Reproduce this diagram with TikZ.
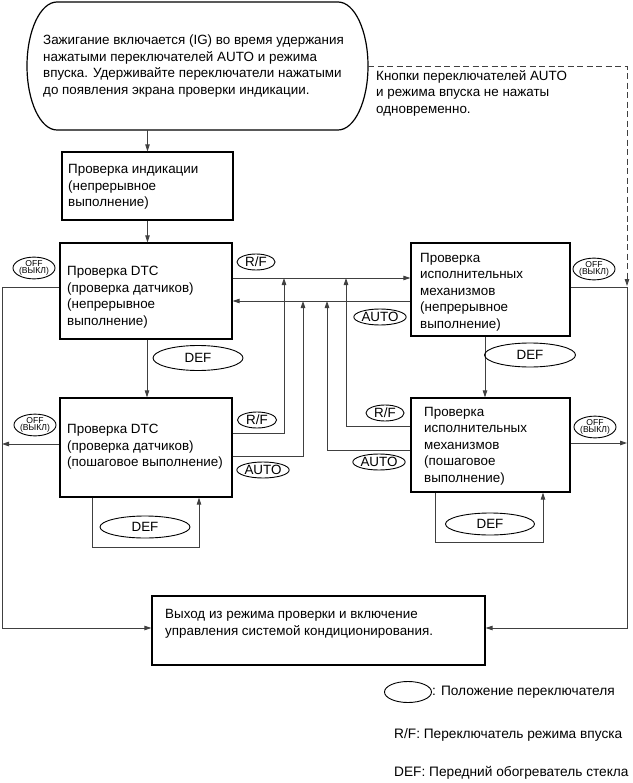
\documentclass[tikz,border=0pt]{standalone}
\usepackage{fontspec}
\setmainfont{Liberation Sans}
\usetikzlibrary{arrows.meta,shapes.geometric}
\begin{document}
\begin{tikzpicture}[x=1pt,y=-1pt,
  box/.style={draw,line width=1.2pt,inner sep=0pt},
  txt/.style={anchor=west,align=left,inner sep=0pt,font=\fontsize{13.4}{16.5}\selectfont},
  legtxt/.style={txt,font=\fontsize{13.7}{16.5}\selectfont},
  conn/.style={draw=black!75,line width=0.8pt},
  arr/.style={conn,-{Triangle[length=7pt,width=4.5pt]}},
  sw/.style={draw,ellipse,line width=0.9pt,inner sep=0pt,font=\fontsize{13.4}{13}\selectfont},
  off/.style={draw,ellipse,line width=0.9pt,inner sep=0pt,minimum width=38pt,minimum height=21pt,align=center,font=\fontsize{8.6}{7.6}\selectfont}]
\useasboundingbox (0,0) rectangle (632,783);
% top
\node[inner sep=0pt,minimum width=341pt,minimum height=128pt] (top) at (197.5,66) {};
\draw[line width=1.2pt] (57,2) -- (338,2)
  .. controls (354.6,2) and (368,30.7) .. (368,66)
  .. controls (368,101.3) and (354.6,130) .. (338,130)
  -- (57,130)
  .. controls (40.4,130) and (27,101.3) .. (27,66)
  .. controls (27,30.7) and (40.4,2) .. cycle;
\node[txt] (toptxt) at (43,66) {Зажигание включается (IG) во время удержания\\нажатыми переключателей AUTO и режима\\впуска. Удерживайте переключатели нажатыми\\до появления экрана проверки индикации.};
\node[txt] (note) at (376,93) {Кнопки переключателей AUTO\\и режима впуска не нажаты\\одновременно.};
% boxes
\node[box,minimum width=171pt,minimum height=68pt] (ind) at (147.5,186) {};
\node[txt] (indt) at (68,187) {Проверка индикации\\(непрерывное\\выполнение)};
\node[box,minimum width=172pt,minimum height=96pt] (dtc) at (146,291) {};
\node[txt] (dtct) at (67,297) {Проверка DTC\\(проверка датчиков)\\(непрерывное\\выполнение)};
\node[box,minimum width=159pt,minimum height=93pt] (act) at (490.5,289.5) {};
\node[txt] (actt) at (420,292) {Проверка\\исполнительных\\механизмов\\(непрерывное\\выполнение)};
\node[box,minimum width=172pt,minimum height=99pt] (dtcs) at (146,447.5) {};
\node[txt] (dtcst) at (67,447) {Проверка DTC\\(проверка датчиков)\\(пошаговое выполнение)};
\node[box,minimum width=159pt,minimum height=94pt] (acts) at (490.5,445) {};
\node[txt] (actst) at (424,446) {Проверка\\исполнительных\\механизмов\\(пошаговое\\выполнение)};
\node[box,minimum width=333pt,minimum height=69pt] (exit) at (318.5,630.5) {};
\node[txt] (exitt) at (165,624) {Выход из режима проверки и включение\\управления системой кондиционирования.};
% corner coordinates
\coordinate (lx1) at (2,287);
\coordinate (lx2) at (2,628);
\coordinate (rx1) at (627,287);
\coordinate (rx2) at (627,628);
\coordinate (dsh) at (627,66);
\coordinate (dshe) at (627,286);
% vertical flow
\draw[arr] (top.south -| ind.north) -- (ind.north);
\draw[arr] (ind.south) -- (ind.south |- dtc.north);
\draw[arr] (dtc.south -| 147,0) -- (dtcs.north -| 147,0);
\draw[arr] (act.south -| 485,0) -- (acts.north -| 485,0);
% main horizontal
\draw[arr] (dtc.east |- 0,278) -- (act.west |- 0,278);
\draw[arr] (act.west |- 0,301) -- (dtc.east |- 0,301);
% risers
\draw[arr] (dtcs.east |- 0,433) -- (284,433) -- (284,278);
\draw[arr] (dtcs.east |- 0,456) -- (303,456) -- (303,301);
\draw[arr] (acts.west |- 0,450) -- (327,450) -- (327,301);
\draw[arr] (acts.west |- 0,426) -- (346,426) -- (346,278);
% DEF loops
\draw[arr] (dtcs.south -| 92,0) -- (92,547) -- (199,547) -- (dtcs.south -| 199,0);
\draw[arr] (acts.south -| 435,0) -- (435,542) -- (543,542) -- (acts.south -| 543,0);
% OFF
\draw[arr] (dtc.west |- lx1) -- (lx1) -- (lx2) -- (exit.west |- lx2);
\draw[arr] (dtcs.west |- 0,444) -- (2,444);
\draw[arr] (act.east |- rx1) -- (rx1) -- (rx2) -- (exit.east |- rx2);
\draw[arr] (acts.east |- 0,443) -- (627,443);
\draw[arr,dash pattern=on 6pt off 3.5pt] (top.east) -- (dsh) -- (dshe);
% switch ellipses
\node[sw,minimum width=38pt,minimum height=16pt] (rf1) at (256,262) {R/F};
\node[sw,minimum width=52pt,minimum height=16pt] (auto1) at (380,317) {AUTO};
\node[sw,minimum width=39pt,minimum height=16pt] (rf2) at (257,420) {R/F};
\node[sw,minimum width=51pt,minimum height=16pt] (auto2) at (263,470) {AUTO};
\node[sw,minimum width=38pt,minimum height=16pt] (rf3) at (385,413) {R/F};
\node[sw,minimum width=52pt,minimum height=16pt] (auto3) at (379,462) {AUTO};
\node[sw,minimum width=90pt,minimum height=25pt] (def1) at (198,358) {DEF};
\node[sw,minimum width=91pt,minimum height=24pt] (def2) at (530,355) {DEF};
\node[sw,minimum width=90pt,minimum height=22pt] (def3) at (145,527) {DEF};
\node[sw,minimum width=89pt,minimum height=22pt] (def4) at (490,524) {DEF};
\node[off] (off1) at (34,268) {OFF\\(ВЫКЛ)};
\node[off] (off2) at (35,425) {OFF\\(ВЫКЛ)};
\node[off] (off3) at (594,269) {OFF\\(ВЫКЛ)};
\node[off] (off4) at (595,427) {OFF\\(ВЫКЛ)};
% legend
\node[sw,minimum width=47pt,minimum height=21pt] (leg) at (408,692) {};
\node[legtxt] (legt) at (leg.east) {: Положение переключателя};
\node[legtxt] (leg2) at (394,735) {R/F: Переключатель режима впуска};
\node[legtxt] (leg3) at (394,773) {DEF: Передний обогреватель стекла};
\end{tikzpicture}
\end{document}
